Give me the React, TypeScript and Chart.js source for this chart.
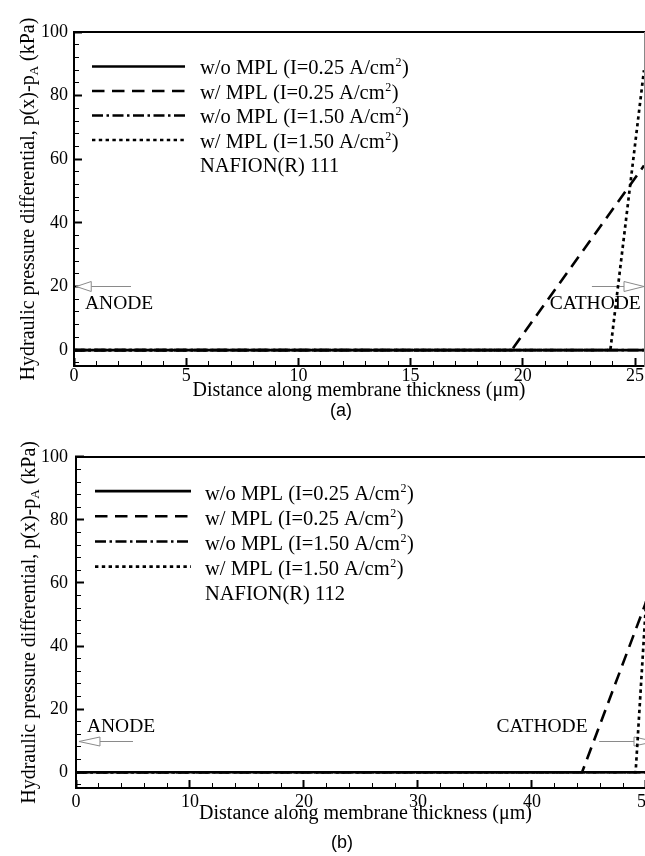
import React, { useEffect, useRef } from "react";
import { Chart, registerables } from "chart.js";

Chart.register(...registerables);

// ---------- shared text ----------
const SERIES_LABELS = [
  "w/o MPL (I=0.25 A/cm²)",
  "w/ MPL (I=0.25 A/cm²)",
  "w/o MPL (I=1.50 A/cm²)",
  "w/ MPL (I=1.50 A/cm²)",
];
const X_TITLE = "Distance along membrane thickness (μm)";
const Y_TITLE_MAIN = "Hydraulic pressure differential, p(x)-p";
const Y_TITLE_SUB = "A";
const Y_TITLE_UNIT = " (kPa)";

// ---------- panel (a): NAFION(R) 111 ----------
const A_MEMBRANE = "NAFION(R) 111";
const A_X_RANGE = [0, 25.4];
const A_Y_RANGE = [-5, 100];
const A_X_TICKS = [0, 5, 10, 15, 20, 25];
const A_Y_TICKS = [0, 20, 40, 60, 80, 100];
const A_X_MINOR_STEP = 1;
const A_Y_MINOR_STEP = 4;
const A_WOMPL_025_X = [0, 25.4];
const A_WOMPL_025_Y = [0, 0];
const A_WMPL_025_X = [0, 19.5, 25.4];
const A_WMPL_025_Y = [0, 0, 58];
const A_WOMPL_150_X = [0, 25.4];
const A_WOMPL_150_Y = [0, 0];
const A_WMPL_150_X = [0, 23.9, 25.4];
const A_WMPL_150_Y = [0, 0, 88];

// ---------- panel (b): NAFION(R) 112 ----------
const B_MEMBRANE = "NAFION(R) 112";
const B_X_RANGE = [0, 50.8];
const B_Y_RANGE = [-5, 100];
const B_X_TICKS = [0, 10, 20, 30, 40, 50];
const B_Y_TICKS = [0, 20, 40, 60, 80, 100];
const B_X_MINOR_STEP = 2;
const B_Y_MINOR_STEP = 4;
const B_WOMPL_025_X = [0, 50.8];
const B_WOMPL_025_Y = [0, 0];
const B_WMPL_025_X = [0, 44.4, 50.8];
const B_WMPL_025_Y = [0, 0, 61.5];
const B_WOMPL_150_X = [0, 50.8];
const B_WOMPL_150_Y = [0, 0];
const B_WMPL_150_X = [0, 49.1, 50.8];
const B_WMPL_150_Y = [0, 0, 100];

// ---------- styles ----------
const FAMILY = "'Liberation Serif', 'Times New Roman', serif";
const TICK_FONT = { family: FAMILY, size: 18 };
const TITLE_FONT = { family: FAMILY, size: 20 };
const LEGEND_SIZE = 20.5;
const SUP_SIZE = 12;
const NOTE_SIZE = 19.5;
const LINE_STYLES = [
  { dash: [] as number[], width: 2.6 },
  { dash: [12.5, 7.5], width: 2.6 },
  { dash: [11, 3.5, 2.5, 3.5], width: 2.6 },
  { dash: [3.4, 3.4], width: 2.7 },
];
const ARROW_COLOR = "#8a8a8a";

type Series = { x: number[]; y: number[] };
type Panel = {
  key: string;
  membrane: string;
  xRange: number[];
  yRange: number[];
  xTicks: number[];
  yTicks: number[];
  xMinorStep: number;
  yMinorStep: number;
  series: Series[];
  L: any;
  notes: { t: string; x: number; y: number }[];
  arrows: { x0: number; x1: number; y: number; head: number; half: number }[];
};

const PANEL_A: Panel = {
  key: "a",
  membrane: A_MEMBRANE,
  xRange: A_X_RANGE,
  yRange: A_Y_RANGE,
  xTicks: A_X_TICKS,
  yTicks: A_Y_TICKS,
  xMinorStep: A_X_MINOR_STEP,
  yMinorStep: A_Y_MINOR_STEP,
  series: [
    { x: A_WOMPL_025_X, y: A_WOMPL_025_Y },
    { x: A_WMPL_025_X, y: A_WMPL_025_Y },
    { x: A_WOMPL_150_X, y: A_WOMPL_150_Y },
    { x: A_WMPL_150_X, y: A_WMPL_150_Y },
  ],
  L: {
    padTop: 32, padRight: 16, yAxisWidth: 74, xAxisHeight: 54,
    xTickPad: 7, yTickPad: 14, xTitlePadBottom: 17, yTitleX: 33.5,
    legend: { x0: 18, x1: 111, tx: 126, y0: 34.5, gap: 24.5, base: 7.5 },
  },
  notes: [
    { t: "ANODE", x: 0.49, y: 12.9 },
    { t: "CATHODE", x: 21.2, y: 13 },
  ],
  arrows: [
    { x0: 2.54, x1: 0.1, y: 20, head: 15, half: 5 },
    { x0: 23.08, x1: 25.4, y: 20, head: 20, half: 5 },
  ],
};

const PANEL_B: Panel = {
  key: "b",
  membrane: B_MEMBRANE,
  xRange: B_X_RANGE,
  yRange: B_Y_RANGE,
  xTicks: B_X_TICKS,
  yTicks: B_Y_TICKS,
  xMinorStep: B_X_MINOR_STEP,
  yMinorStep: B_Y_MINOR_STEP,
  series: [
    { x: B_WOMPL_025_X, y: B_WOMPL_025_Y },
    { x: B_WMPL_025_X, y: B_WMPL_025_Y },
    { x: B_WOMPL_150_X, y: B_WOMPL_150_Y },
    { x: B_WMPL_150_X, y: B_WMPL_150_Y },
  ],
  L: {
    padTop: 19, padRight: 15, yAxisWidth: 76, xAxisHeight: 42,
    xTickPad: 11, yTickPad: 16, xTitlePadBottom: 4, yTitleX: 34.5,
    legend: { x0: 19, x1: 115, tx: 129, y0: 34.3, gap: 25.2, base: 8.5 },
  },
  notes: [
    { t: "ANODE", x: 0.96, y: 12.7 },
    { t: "CATHODE", x: 36.9, y: 12.7 },
  ],
  arrows: [
    { x0: 5.0, x1: 0.26, y: 10, head: 21, half: 4.5 },
    { x0: 45.9, x1: 50.8, y: 10, head: 21, half: 4.5 },
  ],
};

// draws a label, rendering "²" as a small raised "2"
function drawRichText(ctx: CanvasRenderingContext2D, text: string, x: number, y: number) {
  const mainFont = `${LEGEND_SIZE}px ${FAMILY}`;
  const supFont = `${SUP_SIZE}px ${FAMILY}`;
  const parts = text.split("²");
  let cx = x;
  parts.forEach((part, i) => {
    ctx.font = mainFont;
    ctx.fillText(part, cx, y);
    cx += ctx.measureText(part).width;
    if (i < parts.length - 1) {
      ctx.font = supFont;
      ctx.fillText("2", cx + 0.5, y - 8);
      cx += ctx.measureText("2").width + 1;
    }
  });
}

function makeDecor(p: Panel) {
  return {
    id: "decor_" + p.key,
    beforeDatasetsDraw(chart: any) {
      const ctx = chart.ctx;
      const xs = chart.scales.x;
      const ys = chart.scales.y;
      ctx.save();
      ctx.fillStyle = "#000";
      ctx.textBaseline = "alphabetic";
      ctx.textAlign = "left";
      ctx.font = `${NOTE_SIZE}px ${FAMILY}`;
      p.notes.forEach((n) => {
        ctx.fillText(n.t, xs.getPixelForValue(n.x), ys.getPixelForValue(n.y));
      });
      ctx.strokeStyle = ARROW_COLOR;
      ctx.lineWidth = 1;
      p.arrows.forEach((a) => {
        const px0 = xs.getPixelForValue(a.x0);
        const px1 = xs.getPixelForValue(a.x1);
        const py = Math.round(ys.getPixelForValue(a.y)) + 0.5;
        const dir = px1 > px0 ? 1 : -1;
        const base = px1 - dir * a.head;
        ctx.beginPath();
        ctx.moveTo(px0, py);
        ctx.lineTo(base, py);
        ctx.stroke();
        ctx.beginPath();
        ctx.moveTo(px1, py);
        ctx.lineTo(base, py - a.half);
        ctx.lineTo(base, py + a.half);
        ctx.closePath();
        ctx.fillStyle = "#fff";
        ctx.fill();
        ctx.stroke();
      });
      ctx.restore();
    },
    afterDraw(chart: any) {
      const ctx = chart.ctx;
      const ca = chart.chartArea;
      const lg = p.L.legend;
      ctx.save();
      ctx.textBaseline = "alphabetic";
      ctx.textAlign = "left";
      chart.data.datasets.forEach((ds: any, i: number) => {
        const y = ca.top + lg.y0 + i * lg.gap;
        ctx.beginPath();
        ctx.setLineDash(ds.borderDash || []);
        ctx.lineWidth = ds.borderWidth;
        ctx.strokeStyle = ds.borderColor;
        ctx.lineCap = "butt";
        ctx.moveTo(ca.left + lg.x0, y);
        ctx.lineTo(ca.left + lg.x1, y);
        ctx.stroke();
        ctx.setLineDash([]);
        ctx.fillStyle = "#000";
        drawRichText(ctx, ds.label, ca.left + lg.tx, y + lg.base);
      });
      const n = chart.data.datasets.length;
      ctx.fillStyle = "#000";
      drawRichText(ctx, p.membrane, ca.left + lg.tx, ca.top + lg.y0 + n * lg.gap + lg.base);
      // y-axis title with subscript
      ctx.translate(p.L.yTitleX, (ca.top + ca.bottom) / 2);
      ctx.rotate(-Math.PI / 2);
      const mainFont = `${TITLE_FONT.size}px ${FAMILY}`;
      const subFont = `13px ${FAMILY}`;
      ctx.font = mainFont;
      const w1 = ctx.measureText(Y_TITLE_MAIN).width;
      const w3 = ctx.measureText(Y_TITLE_UNIT).width;
      ctx.font = subFont;
      const w2 = ctx.measureText(Y_TITLE_SUB).width;
      let x = -(w1 + w2 + w3) / 2;
      ctx.font = mainFont;
      ctx.fillText(Y_TITLE_MAIN, x, 0);
      x += w1;
      ctx.font = subFont;
      ctx.fillText(Y_TITLE_SUB, x, 4);
      x += w2;
      ctx.font = mainFont;
      ctx.fillText(Y_TITLE_UNIT, x, 0);
      ctx.restore();
    },
  };
}

function buildConfig(p: Panel): any {
  const datasets = p.series.map((s, i) => ({
    label: SERIES_LABELS[i],
    data: s.x.map((x, j) => ({ x, y: s.y[j] })),
    borderColor: "#000",
    borderWidth: LINE_STYLES[i].width,
    borderDash: LINE_STYLES[i].dash,
    borderCapStyle: "butt",
    pointRadius: 0,
    fill: false,
    tension: 0,
    xAxisID: "x",
    yAxisID: "y",
  }));
  const [xMin, xMax] = p.xRange;
  const [yMin, yMax] = p.yRange;
  return {
    type: "line",
    data: { datasets },
    options: {
      animation: false,
      responsive: false,
      events: [],
      layout: { padding: { top: p.L.padTop, right: p.L.padRight, left: 0, bottom: 0 } },
      plugins: {
        legend: { display: false },
        tooltip: { enabled: false },
        title: { display: false },
      },
      scales: {
        x: {
          type: "linear",
          position: "bottom",
          min: xMin,
          max: xMax,
          afterBuildTicks: (s: any) => {
            s.ticks = p.xTicks.map((v) => ({ value: v }));
          },
          ticks: {
            color: "#000",
            font: TICK_FONT,
            padding: p.L.xTickPad,
            autoSkip: false,
            maxRotation: 0,
            minRotation: 0,
          },
          grid: {
            display: true,
            drawOnChartArea: false,
            drawTicks: true,
            tickLength: -8,
            tickWidth: 2,
            tickColor: "#000",
            color: "#000",
          },
          border: { display: true, color: "#000", width: 2 },
          title: {
            display: true,
            text: X_TITLE,
            color: "#000",
            font: TITLE_FONT,
            padding: { top: 0, bottom: p.L.xTitlePadBottom },
          },
          afterFit: (s: any) => {
            s.height = p.L.xAxisHeight;
          },
        },
        xMinor: {
          type: "linear",
          position: "bottom",
          weight: -1,
          min: xMin,
          max: xMax,
          ticks: { display: false, stepSize: p.xMinorStep, autoSkip: false, maxTicksLimit: 1000, includeBounds: false },
          grid: { display: true, drawOnChartArea: false, drawTicks: true, tickLength: -5, tickWidth: 1, tickColor: "#000" },
          border: { display: false },
          afterFit: (s: any) => {
            s.height = 0;
          },
        },
        xTop: {
          type: "linear",
          position: "top",
          min: xMin,
          max: xMax,
          ticks: { display: false },
          grid: { display: false },
          border: { display: true, color: "#000", width: 2 },
          afterFit: (s: any) => {
            s.height = 0;
          },
        },
        y: {
          type: "linear",
          position: "left",
          min: yMin,
          max: yMax,
          afterBuildTicks: (s: any) => {
            s.ticks = p.yTicks.map((v) => ({ value: v }));
          },
          ticks: { color: "#000", font: TICK_FONT, padding: p.L.yTickPad, autoSkip: false },
          grid: {
            display: true,
            drawOnChartArea: false,
            drawTicks: true,
            tickLength: -8,
            tickWidth: 2,
            tickColor: "#000",
            color: "#000",
          },
          border: { display: true, color: "#000", width: 2 },
          title: { display: false },
          afterFit: (s: any) => {
            s.width = p.L.yAxisWidth;
          },
        },
        yMinor: {
          type: "linear",
          position: "left",
          weight: -1,
          min: yMin,
          max: yMax,
          ticks: { display: false, stepSize: p.yMinorStep, autoSkip: false, maxTicksLimit: 1000, includeBounds: false },
          grid: { display: true, drawOnChartArea: false, drawTicks: true, tickLength: -5, tickWidth: 1, tickColor: "#000" },
          border: { display: false },
          afterFit: (s: any) => {
            s.width = 0;
          },
        },
        yRight: {
          type: "linear",
          position: "right",
          min: yMin,
          max: yMax,
          ticks: { display: false },
          grid: { display: false },
          border: { display: true, color: "#888", width: 1 },
          afterFit: (s: any) => {
            s.width = 0;
          },
        },
      },
    },
    plugins: [makeDecor(p)],
  };
}

function PanelChart({ panel, top, width, height }: { panel: Panel; top: number; width: number; height: number }) {
  const ref = useRef<HTMLCanvasElement>(null);
  useEffect(() => {
    const chart = new Chart(ref.current as HTMLCanvasElement, buildConfig(panel));
    return () => chart.destroy();
  }, [panel]);
  return (
    <canvas
      ref={ref}
      width={width}
      height={height}
      style={{ position: "absolute", left: 0, top, width, height, display: "block" }}
    />
  );
}

function Caption({ text, cx, cy }: { text: string; cx: number; cy: number }) {
  return (
    <div
      style={{
        position: "absolute",
        left: cx,
        top: cy,
        transform: "translate(-50%, -50%)",
        font: "18px 'Liberation Sans', Arial, sans-serif",
        lineHeight: "1",
        color: "#000",
        whiteSpace: "nowrap",
      }}
    >
      {text}
    </div>
  );
}

export default function App() {
  return (
    <div
      style={{
        position: "fixed",
        left: 0,
        top: 0,
        width: 645,
        height: 856,
        overflow: "hidden",
        background: "#fff",
      }}
    >
      <PanelChart panel={PANEL_A} top={0} width={660} height={420} />
      <Caption text="(a)" cx={341} cy={410} />
      <PanelChart panel={PANEL_B} top={430} width={670} height={400} />
      <Caption text="(b)" cx={342} cy={842} />
    </div>
  );
}
